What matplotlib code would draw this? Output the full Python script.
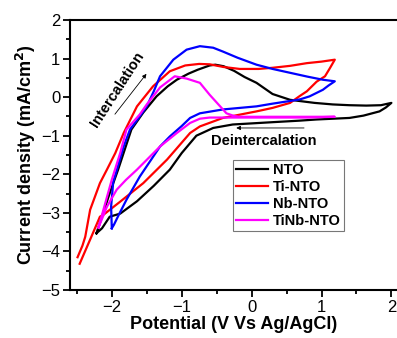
import numpy as np
import matplotlib
matplotlib.use("Agg")
import matplotlib.pyplot as plt
from matplotlib.ticker import MultipleLocator

plt.rcParams['font.family'] = ['Liberation Sans', 'DejaVu Sans']

# closed CV loops, traced by eye (potential V, current mA/cm2)
nto_x = [-2.22, -2.03, -1.91, -1.72, -1.55, -1.36, -1.2, -1.07, -0.9, -0.77, -0.6, -0.52, -0.4,
         -0.25, -0.1, 0.07, 0.3, 0.55, 0.9, 1.16, 1.4, 1.64, 1.85, 2.0, 1.92, 1.83, 1.6, 1.4, 0.93,
         0.69, 0.3, -0.27, -0.55, -0.79, -1.0, -1.17, -1.4, -1.64, -1.88, -2.03, -2.14, -2.22]
nto_y = [-3.53, -2.49, -1.88, -0.84, -0.4, 0.02, 0.28, 0.45, 0.61, 0.71, 0.82, 0.84, 0.8,
         0.68, 0.52, 0.37, 0.08, -0.07, -0.15, -0.19, -0.21, -0.22, -0.21, -0.15, -0.27, -0.37, -0.48,
         -0.54, -0.58, -0.61, -0.65, -0.71, -0.8, -1.0, -1.45, -1.88, -2.3, -2.7, -3.02, -3.1, -3.4, -3.53]

ti_x = [-2.49, -2.42, -2.38, -2.31, -2.17, -2.07, -1.95, -1.83, -1.64, -1.41, -1.17, -0.95, -0.75,
        -0.6, -0.4, -0.17, 0.1, 0.3, 0.55, 0.79, 1.0, 1.19, 1.12, 1.05, 0.93, 0.79, 0.69, 0.55, 0.3,
        0.07, -0.41, -0.74, -0.88, -1.21, -1.55, -1.88, -2.12, -2.17, -2.3, -2.46]
ti_y = [-4.15, -3.85, -3.62, -2.92, -2.23, -1.88, -1.45, -0.93, -0.24, 0.28, 0.67, 0.82, 0.86,
        0.85, 0.78, 0.73, 0.73, 0.76, 0.81, 0.88, 0.92, 0.97, 0.75, 0.54, 0.4, 0.15, 0.03, -0.15, -0.28,
        -0.37, -0.54, -0.76, -0.93, -1.62, -2.23, -2.71, -3.05, -3.1, -3.65, -4.32]

nb_x = [-2.0, -2.01, -1.98, -1.93, -1.83, -1.74, -1.62, -1.5, -1.4, -1.31, -1.12, -0.93, -0.74,
        -0.55, -0.41, -0.2, 0.07, 0.3, 0.55, 0.8, 1.02, 1.19, 1.1, 1.02, 0.83, 0.69, 0.55, 0.3, 0.07,
        -0.41, -0.74, -0.88, -1.0, -1.17, -1.31, -1.6, -1.79, -1.9, -1.97, -2.0]
nb_y = [-3.4, -2.84, -2.2, -1.9, -1.28, -0.84, -0.55, -0.24, 0.15, 0.54, 0.97, 1.23, 1.32,
        1.28, 1.18, 1.02, 0.84, 0.73, 0.63, 0.53, 0.45, 0.41, 0.3, 0.19, 0.02, -0.06, -0.1, -0.17, -0.24,
        -0.32, -0.42, -0.54, -0.75, -1.02, -1.28, -2.06, -2.66, -3.05, -3.31, -3.4]

tinb_x = [-2.19, -2.12, -2.0, -1.88, -1.79, -1.6, -1.5, -1.31, -1.1, -0.93, -0.74, -0.6, -0.45,
          -0.36, -0.25, -0.17, 0.3, 0.8, 1.19, 0.8, 0.3, -0.3, -0.6, -0.74, -0.88, -1.07, -1.31,
          -1.64, -1.8, -1.93, -2.07, -2.19]
tinb_y = [-3.38, -2.92, -2.14, -1.45, -0.84, -0.45, -0.19, 0.25, 0.54, 0.48, 0.37, 0.06, -0.24,
          -0.42, -0.49, -0.51, -0.51, -0.51, -0.51, -0.53, -0.53, -0.53, -0.53, -0.56, -0.67, -0.93, -1.28,
          -1.88, -2.15, -2.4, -2.84, -3.38]

series = [("NTO", nto_x, nto_y, "black"),
          ("Ti-NTO", ti_x, ti_y, "#ff0000"),
          ("Nb-NTO", nb_x, nb_y, "#0000ff"),
          ("TiNb-NTO", tinb_x, tinb_y, "#ff00ff")]

fig = plt.figure(figsize=(3.97, 3.38), dpi=100)
ax = fig.add_axes([0.176, 0.142, 0.824, 0.799])

for name, xs, ys, c in series:
    ax.plot(xs, ys, color=c, lw=1.6, label=name, solid_joinstyle='round')

ax.set_xlim(-2.6, 2.08)
ax.set_ylim(-5, 2)
ax.xaxis.set_major_locator(MultipleLocator(1))
ax.xaxis.set_minor_locator(MultipleLocator(0.5))
ax.yaxis.set_major_locator(MultipleLocator(1))
ax.yaxis.set_minor_locator(MultipleLocator(0.5))
ax.tick_params(which='major', direction='out', length=5, width=1.3, labelsize=12, pad=2)
ax.tick_params(which='minor', direction='out', length=3, width=1.3)
for s in ['left', 'bottom', 'top']:
    ax.spines[s].set_linewidth(1.5)
ax.spines['right'].set_visible(False)

ax.set_xlabel('Potential (V Vs Ag/AgCl)', fontsize=13, fontweight='bold', labelpad=1)
ax.set_ylabel('Current density (mA/cm$^\\mathbf{2}$)', fontsize=13, fontweight='bold', labelpad=2)

ax.text(-1.92, 0.19, 'Intercalation', rotation=57, rotation_mode='anchor', fontsize=10.5,
        fontweight='bold', ha='center', va='center')
ax.annotate('', xy=(-1.48, 0.66), xytext=(-1.98, -0.5),
            arrowprops=dict(arrowstyle='-|>', lw=0.6, color='black', mutation_scale=6))
ax.text(0.18, -1.15, 'Deintercalation', fontsize=10.5, fontweight='bold', ha='center', va='center')
ax.annotate('', xy=(-0.26, -0.8), xytext=(0.79, -0.8),
            arrowprops=dict(arrowstyle='-|>', lw=0.6, color='black', mutation_scale=6))

leg = ax.legend(loc='upper left', bbox_to_anchor=(0.498, 0.481), borderaxespad=0,
                prop={'weight': 'bold', 'size': 10.5}, frameon=True, fancybox=False,
                edgecolor='#555555', handlelength=2.2, handletextpad=0.35,
                labelspacing=0.2, borderpad=0.2)
leg.get_frame().set_linewidth(0.8)

fig.savefig('out.png', dpi=100)
